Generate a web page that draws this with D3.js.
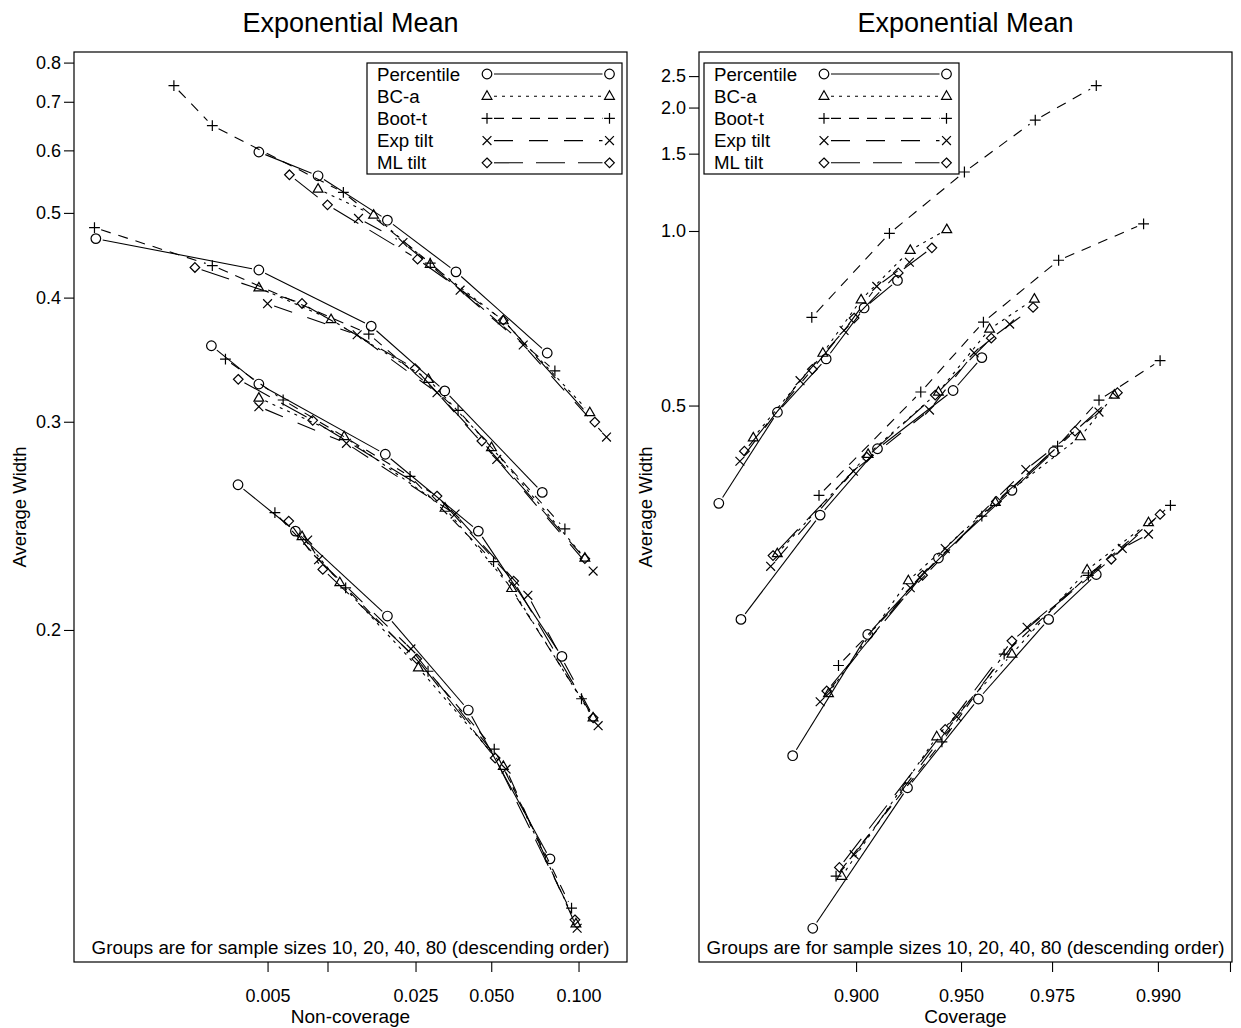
<!DOCTYPE html>
<html>
<head>
<meta charset="utf-8">
<script src="https://cdn.jsdelivr.net/npm/d3@7"></script>
<style>
  html, body { margin: 0; padding: 0; background: #fff; }
  svg { display: block; }
</style>
</head>
<body>
<svg id="chart" width="1241" height="1028"></svg>
<script>
// ---- data -------------------------------------------------------------
// Rows are sample sizes 10, 20, 40, 80; columns follow the five nominal levels.
const sampleSizes = [10, 20, 40, 80];
const methodNames = ["Percentile", "BC-a", "Boot-t", "Exp tilt", "ML tilt"];

// Left panel: non-coverage against average width
const ncPercentileX = [
  [0.0045, 0.0090, 0.0189, 0.0366, 0.0790],
  [0.00050, 0.0045, 0.0160, 0.0330, 0.0760],
  [0.00248, 0.0045, 0.0185, 0.0447, 0.0884],
  [0.00348, 0.00695, 0.0189, 0.0409, 0.0807]
];
const ncPercentileW = [
  [0.597, 0.556, 0.490, 0.427, 0.350],
  [0.466, 0.429, 0.373, 0.321, 0.259],
  [0.356, 0.326, 0.280, 0.240, 0.191],
  [0.263, 0.240, 0.205, 0.1745, 0.1385]
];
const ncBcaX = [
  [0.0090, 0.0164, 0.0288, 0.0554, 0.1085],
  [0.0045, 0.0104, 0.0283, 0.0501, 0.1047],
  [0.0045, 0.0120, 0.0331, 0.0594, 0.1110],
  [0.0075, 0.01145, 0.0257, 0.0554, 0.0981]
];
const ncBcaW = [
  [0.535, 0.497, 0.4355, 0.378, 0.306],
  [0.410, 0.379, 0.3295, 0.284, 0.228],
  [0.316, 0.2906, 0.251, 0.2155, 0.1723],
  [0.2375, 0.2178, 0.1873, 0.1594, 0.1262]
];
const ncBootX = [
  [0.00151, 0.00251, 0.0119, 0.0288, 0.0838],
  [0.00049, 0.00251, 0.0156, 0.0373, 0.0904],
  [0.00297, 0.00602, 0.0237, 0.0510, 0.1022],
  [0.00546, 0.0122, 0.0282, 0.0513, 0.0950]
];
const ncBootW = [
  [0.7386, 0.648, 0.530, 0.4367, 0.3358],
  [0.480, 0.434, 0.366, 0.3075, 0.241],
  [0.345, 0.3146, 0.2675, 0.2265, 0.1778],
  [0.2488, 0.2157, 0.1862, 0.1638, 0.129]
];
const ncExpX = [
  [0.0140, 0.0221, 0.0380, 0.0653, 0.1220],
  [0.0050, 0.0138, 0.0307, 0.0524, 0.1111],
  [0.0045, 0.0123, 0.0363, 0.0678, 0.1151],
  [0.0080, 0.00905, 0.0239, 0.0567, 0.0990]
];
const ncExpW = [
  [0.4924, 0.4612, 0.4075, 0.3566, 0.2903],
  [0.394, 0.3654, 0.3197, 0.277, 0.2225],
  [0.310, 0.2865, 0.2481, 0.2128, 0.1701],
  [0.2359, 0.2273, 0.1935, 0.1587, 0.1254]
];
const ncMlX = [
  [0.00648, 0.0100, 0.0255, 0.0554, 0.1124],
  [0.0020, 0.0075, 0.0249, 0.0461, 0.1047],
  [0.00349, 0.00847, 0.0307, 0.0604, 0.1111],
  [0.00643, 0.00949, 0.0253, 0.0517, 0.0974]
];
const ncMlW = [
  [0.5577, 0.5114, 0.4413, 0.3784, 0.2998],
  [0.4318, 0.3942, 0.3376, 0.2879, 0.2277],
  [0.3295, 0.3009, 0.2571, 0.2184, 0.1723],
  [0.2447, 0.2232, 0.1902, 0.1615, 0.1269]
];

// Right panel: coverage against average width
const cvPercentileX = [
  [0.790, 0.8436, 0.8806, 0.9048, 0.9229],
  [0.8114, 0.8764, 0.9124, 0.9471, 0.957],
  [0.8559, 0.9069, 0.9414, 0.9657, 0.9753],
  [0.8711, 0.9278, 0.9559, 0.9743, 0.9827]
];
const cvPercentileW = [
  [0.369, 0.489, 0.5885, 0.715, 0.801],
  [0.2708, 0.3568, 0.4347, 0.5262, 0.5913],
  [0.1984, 0.261, 0.317, 0.3832, 0.4307],
  [0.1419, 0.1856, 0.2245, 0.2708, 0.3035]
];
const cvBcaX = [
  [0.8227, 0.8783, 0.9030, 0.9291, 0.9447],
  [0.8435, 0.9071, 0.9414, 0.9594, 0.9712],
  [0.8822, 0.9282, 0.9611, 0.9802, 0.9852],
  [0.8911, 0.9407, 0.9657, 0.9813, 0.9891]
];
const cvBcaW = [
  [0.450, 0.601, 0.739, 0.9145, 1.007],
  [0.3208, 0.4273, 0.5235, 0.658, 0.7414],
  [0.2273, 0.2987, 0.370, 0.4516, 0.5181],
  [0.1561, 0.2066, 0.249, 0.3072, 0.3493]
];
const cvBootX = [
  [0.8704, 0.9188, 0.9512, 0.9714, 0.9827],
  [0.8756, 0.9339, 0.9575, 0.9763, 0.9886],
  [0.8889, 0.957, 0.9761, 0.9831, 0.9902],
  [0.8873, 0.9428, 0.9636, 0.9815, 0.9911]
];
const cvBootW = [
  [0.6885, 0.9883, 1.352, 1.8415, 2.329],
  [0.3776, 0.5235, 0.6761, 0.8743, 1.035],
  [0.2424, 0.3557, 0.4382, 0.5093, 0.5849],
  [0.1561, 0.2043, 0.249, 0.3029, 0.3668]
];
const cvExpX = [
  [0.8104, 0.8616, 0.8925, 0.9120, 0.9287],
  [0.8379, 0.8984, 0.9377, 0.9545, 0.9651],
  [0.8764, 0.9291, 0.9441, 0.9692, 0.9831],
  [0.8988, 0.9485, 0.9695, 0.9862, 0.9891]
];
const cvExpW = [
  [0.4182, 0.5445, 0.6544, 0.7812, 0.8665],
  [0.3101, 0.4056, 0.4925, 0.6016, 0.6709],
  [0.2231, 0.2933, 0.3252, 0.4077, 0.4892],
  [0.1626, 0.2158, 0.2656, 0.3253, 0.3383]
];
const cvMlX = [
  [0.8146, 0.8708, 0.8988, 0.9233, 0.9387],
  [0.8399, 0.9063, 0.9401, 0.9599, 0.9709],
  [0.881, 0.9347, 0.9614, 0.9793, 0.9856],
  [0.8895, 0.9441, 0.9657, 0.9848, 0.9902]
];
const cvMlW = [
  [0.4314, 0.5669, 0.6868, 0.8272, 0.9246],
  [0.3191, 0.4236, 0.5181, 0.6356, 0.7165],
  [0.2286, 0.3029, 0.371, 0.4596, 0.5224],
  [0.1587, 0.2099, 0.257, 0.316, 0.3575]
];

// Axis ticks
const nonCoverageTicks = [0.005, 0.01, 0.025, 0.05, 0.1];
const nonCoverageTickLabels = ["0.005", "", "0.025", "0.050", "0.100"];
const coverageTicks = [0.9, 0.95, 0.975, 0.99, 0.995];
const coverageTickLabels = ["0.900", "0.950", "0.975", "0.990", ""];
const coverageLimits = [0.7697, 0.9951];
const widthTicksLeft = [0.2, 0.3, 0.4, 0.5, 0.6, 0.7, 0.8];
const widthTickLabelsLeft = ["0.2", "0.3", "0.4", "0.5", "0.6", "0.7", "0.8"];
const widthTicksRight = [0.5, 1.0, 1.5, 2.0, 2.5];
const widthTickLabelsRight = ["0.5", "1.0", "1.5", "2.0", "2.5"];

// ---- helpers ----------------------------------------------------------
const FONT = '"Liberation Sans", Arial, Helvetica, sans-serif';

// Inverse standard normal CDF (Acklam's rational approximation)
function qnorm(p) {
  const a = [-3.969683028665376e+01, 2.209460984245205e+02, -2.759285104469687e+02,
             1.383577518672690e+02, -3.066479806614716e+01, 2.506628277459239e+00];
  const b = [-5.447609879822406e+01, 1.615858368580409e+02, -1.556989798598866e+02,
             6.680131188771972e+01, -1.328068155288572e+01];
  const c = [-7.784894002430293e-03, -3.223964580411365e-01, -2.400758277161838e+00,
             -2.549732539343734e+00, 4.374664141464968e+00, 2.938163982698783e+00];
  const d = [7.784695709041462e-03, 3.224671290700398e-01, 2.445134137142996e+00,
             3.754408661907416e+00];
  const plow = 0.02425, phigh = 1 - plow;
  let q, r;
  if (p < plow) {
    q = Math.sqrt(-2 * Math.log(p));
    return (((((c[0]*q+c[1])*q+c[2])*q+c[3])*q+c[4])*q+c[5]) /
           ((((d[0]*q+d[1])*q+d[2])*q+d[3])*q+1);
  }
  if (p > phigh) {
    q = Math.sqrt(-2 * Math.log(1 - p));
    return -(((((c[0]*q+c[1])*q+c[2])*q+c[3])*q+c[4])*q+c[5]) /
            ((((d[0]*q+d[1])*q+d[2])*q+d[3])*q+1);
  }
  q = p - 0.5; r = q * q;
  return (((((a[0]*r+a[1])*r+a[2])*r+a[3])*r+a[4])*r+a[5])*q /
         (((((b[0]*r+b[1])*r+b[2])*r+b[3])*r+b[4])*r+1);
}

// Marker glyphs, one per method
const glyphs = [
  "M4.8,0A4.8,4.8 0 1,1 -4.8,0A4.8,4.8 0 1,1 4.8,0Z",     // circle
  "M0,-5.4L4.9,3.1L-4.9,3.1Z",                            // triangle
  "M-5.4,0H5.4M0,-5.4V5.4",                               // plus
  "M-4.4,-4.4L4.4,4.4M-4.4,4.4L4.4,-4.4",                 // cross
  "M0,-4.8L4.8,0L0,4.8L-4.8,0Z"                           // diamond
];
const dashes = [null, "3,5", "10,8", "19,16", "29,13"];
const GAP = 7;

const svg = d3.select("#chart");
svg.append("rect").attr("width", 1241).attr("height", 1028).attr("fill", "#fff");

function padDomain(vals) {
  const [lo, hi] = d3.extent(vals);
  const pad = (hi - lo) * 0.04;
  return [lo - pad, hi + pad];
}

// Draw one series: segments shortened around each point, then the markers
function drawSeries(g, pts, m) {
  for (let i = 0; i < pts.length - 1; i++) {
    const [x1, y1] = pts[i], [x2, y2] = pts[i + 1];
    const dx = x2 - x1, dy = y2 - y1, len = Math.hypot(dx, dy);
    if (len <= 2 * GAP) continue;
    const ux = dx / len, uy = dy / len;
    g.append("line")
      .attr("x1", x1 + ux * GAP).attr("y1", y1 + uy * GAP)
      .attr("x2", x2 - ux * GAP).attr("y2", y2 - uy * GAP)
      .attr("stroke", "#000").attr("stroke-width", 1.1)
      .attr("stroke-dasharray", dashes[m]);
  }
  g.selectAll(null).data(pts).enter().append("path")
    .attr("d", glyphs[m])
    .attr("transform", d => `translate(${d[0]},${d[1]})`)
    .attr("fill", "none").attr("stroke", "#000").attr("stroke-width", 1.2);
}

function drawPanel(cfg) {
  const { left, right, top, bottom } = cfg;
  const g = svg.append("g");

  const allW = cfg.widths.flat(2);
  const uDom = padDomain(allW.map(w => 1 / Math.sqrt(w)));
  const y = d3.scalePow().exponent(-0.5)
    .domain([1 / (uDom[1] * uDom[1]), 1 / (uDom[0] * uDom[0])])
    .range([bottom, top]);

  const xq = d3.scaleLinear().domain(cfg.qDomain).range([left, right]);
  const x = p => xq(qnorm(p));

  // frame
  g.append("rect").attr("x", left).attr("y", top)
    .attr("width", right - left).attr("height", bottom - top)
    .attr("fill", "none").attr("stroke", "#000").attr("stroke-width", 1.2);

  // axes
  const xAxis = d3.axisBottom(xq)
    .tickValues(cfg.xTicks.map(qnorm))
    .tickFormat((d, i) => cfg.xTickLabels[i])
    .tickSize(10).tickPadding(17);
  const gx = g.append("g").attr("transform", `translate(0,${bottom})`).call(xAxis);
  const yAxis = d3.axisLeft(y)
    .tickValues(cfg.yTicks)
    .tickFormat((d, i) => cfg.yTickLabels[i])
    .tickSize(10).tickPadding(3);
  const gy = g.append("g").attr("transform", `translate(${left},0)`).call(yAxis);
  [gx, gy].forEach(a => {
    a.select(".domain").remove();
    a.selectAll("line").attr("stroke", "#000").attr("stroke-width", 1.1);
    a.selectAll("text").attr("font-family", FONT).attr("font-size", 18).attr("fill", "#000");
  });

  // series
  const cx = (left + right) / 2;
  cfg.xs.forEach((xm, m) => {
    xm.forEach((row, gi) => {
      const pts = row.map((v, k) => [x(v), y(cfg.widths[m][gi][k])]);
      drawSeries(g, pts, m);
    });
  });

  // titles and notes
  g.append("text").attr("x", cx).attr("y", 32).attr("text-anchor", "middle")
    .attr("font-family", FONT).attr("font-size", 27).text("Exponential Mean");
  g.append("text").attr("x", cx).attr("y", 1023).attr("text-anchor", "middle")
    .attr("font-family", FONT).attr("font-size", 19).text(cfg.xTitle);
  g.append("text")
    .attr("transform", `translate(${cfg.yTitleX},${(top + bottom) / 2}) rotate(-90)`)
    .attr("text-anchor", "middle").attr("dominant-baseline", "central")
    .attr("font-family", FONT).attr("font-size", 18.5).text("Average Width");
  g.append("text").attr("x", cx).attr("y", 954).attr("text-anchor", "middle")
    .attr("font-family", FONT).attr("font-size", 18.8)
    .text("Groups are for sample sizes " + sampleSizes.join(", ") + " (descending order)");

  // legend
  const lg = g.append("g").attr("transform", `translate(${cfg.legendX},63)`);
  lg.append("rect").attr("width", 255).attr("height", 111)
    .attr("fill", "#fff").attr("stroke", "#000").attr("stroke-width", 1.2);
  methodNames.forEach((name, m) => {
    const ry = 11 + m * 22.2;
    lg.append("text").attr("x", 10).attr("y", ry + 6.5)
      .attr("font-family", FONT).attr("font-size", 18.7).text(name);
    drawSeries(lg, [[120, ry], [242.5, ry]], m);
  });
}

drawPanel({
  left: 74, right: 627, top: 52, bottom: 962,
  xs: [ncPercentileX, ncBcaX, ncBootX, ncExpX, ncMlX],
  widths: [ncPercentileW, ncBcaW, ncBootW, ncExpW, ncMlW],
  qDomain: padDomain([ncPercentileX, ncBcaX, ncBootX, ncExpX, ncMlX].flat(2).map(qnorm)),
  xTicks: nonCoverageTicks, xTickLabels: nonCoverageTickLabels,
  yTicks: widthTicksLeft, yTickLabels: widthTickLabelsLeft,
  xTitle: "Non-coverage", yTitleX: 19, legendX: 367
});

drawPanel({
  left: 699, right: 1232, top: 52, bottom: 962,
  xs: [cvPercentileX, cvBcaX, cvBootX, cvExpX, cvMlX],
  widths: [cvPercentileW, cvBcaW, cvBootW, cvExpW, cvMlW],
  qDomain: coverageLimits.map(qnorm),
  xTicks: coverageTicks, xTickLabels: coverageTickLabels,
  yTicks: widthTicksRight, yTickLabels: widthTickLabelsRight,
  xTitle: "Coverage", yTitleX: 645, legendX: 704
});
</script>
</body>
</html>
